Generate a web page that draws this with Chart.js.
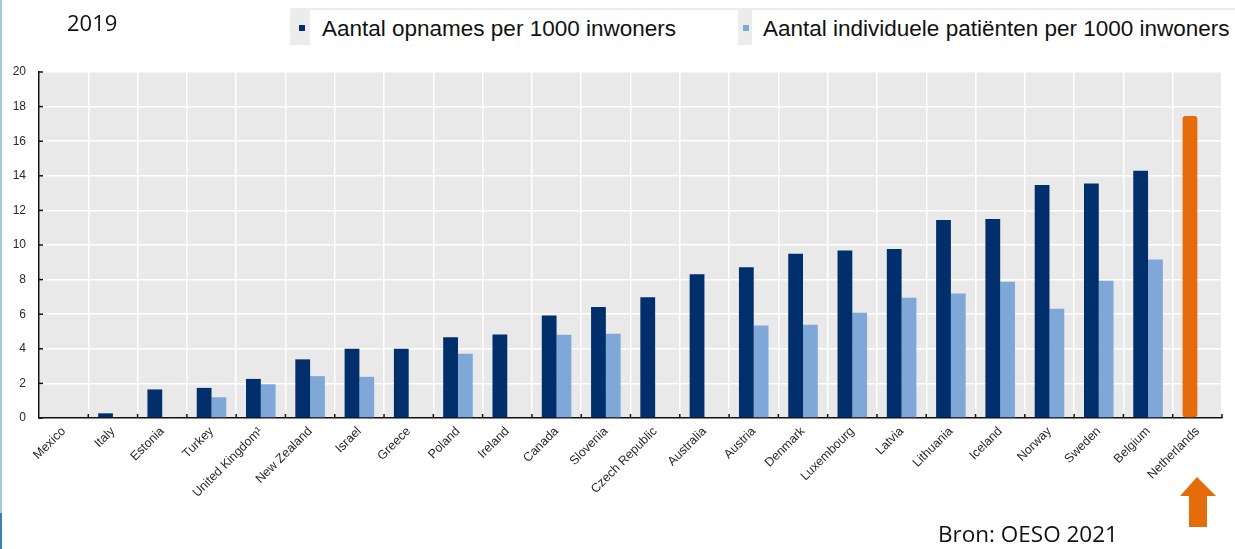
<!DOCTYPE html>
<html>
<head>
<meta charset="utf-8">
<script src="https://cdn.jsdelivr.net/npm/chart.js@4"></script>
<style>
  html, body { margin: 0; padding: 0; background: #fff; }
  #wrap { position: relative; width: 1235px; height: 549px; overflow: hidden; background: #fff; }
  #chart { position: absolute; left: 0; top: 0; }
  .edge { position: absolute; left: 0; width: 2px; }
  .title { position: absolute; font-family: "Open Sans", sans-serif; font-size: 22px; line-height: 30px; color: #111; white-space: nowrap; }
  .legend-panel { position: absolute; left: 290px; top: 8px; width: 945px; height: 37px; background: #ececec; }
  .legend-item { position: absolute; top: 10px; height: 35px; background: #fff; }
  .legend-text { position: absolute; font-family: "Liberation Sans", Arial, sans-serif; font-size: 22.5px; line-height: 26px; color: #111; white-space: nowrap; }
  .swatch { position: absolute; width: 6px; height: 6px; }
  #arrow { position: absolute; left: 0; top: 0; }
</style>
</head>
<body>
<div id="wrap">
  <canvas id="chart" width="1235" height="549"></canvas>
  <div class="edge" style="top:0;height:513px;background:#a3ccd8;"></div>
  <div class="edge" style="top:513px;height:36px;background:#3a82ad;"></div>

  <div class="title" style="left:67px;top:7px;">2019</div>

  <div class="legend-panel"></div>
  <div class="legend-item" style="left:310px;width:428px;"></div>
  <div class="legend-item" style="left:752px;width:483px;"></div>
  <div class="swatch" id="sw1" style="left:299px;top:25px;"></div>
  <div class="swatch" id="sw2" style="left:743px;top:25px;"></div>
  <div class="legend-text" id="lg1" style="left:322px;top:16px;"></div>
  <div class="legend-text" id="lg2" style="left:763px;top:16px;"></div>

  <svg id="arrow" width="1235" height="549">
    <polygon points="1197,477 1216,496 1207,496 1207,527 1189,527 1189,496 1180,496" fill="#e46c0a"/>
  </svg>

  <div class="title" style="left:938px;top:519px;font-size:22.5px;">Bron: OESO 2021</div>
</div>

<script>
// Countries, ordered by number of admissions
const countries = [
  'Mexico', 'Italy', 'Estonia', 'Turkey', 'United Kingdom¹', 'New Zealand', 'Israel', 'Greece',
  'Poland', 'Ireland', 'Canada', 'Slovenia', 'Czech Republic', 'Australia', 'Austria', 'Denmark',
  'Luxembourg', 'Latvia', 'Lithuania', 'Iceland', 'Norway', 'Sweden', 'Belgium', 'Netherlands'
];

// Admissions per 1000 inhabitants
const admissions = [
  null, 0.27, 1.65, 1.74, 2.26, 3.39, 4.0, 4.0,
  4.67, 4.83, 5.93, 6.41, 6.98, 8.31, 8.71, 9.5,
  9.68, 9.77, 11.45, 11.5, 13.47, 13.56, 14.29, 17.45
];

// Individual patients per 1000 inhabitants
const patients = [
  null, null, null, 1.2, 1.95, 2.42, 2.38, null,
  3.72, null, 4.81, 4.87, null, null, 5.35, 5.39,
  6.08, 6.95, 7.2, 7.87, 6.31, 7.93, 9.16, null
];

const seriesNames = [
  'Aantal opnames per 1000 inwoners',
  'Aantal individuele patiënten per 1000 inwoners'
];

const yTicks = [0, 2, 4, 6, 8, 10, 12, 14, 16, 18, 20];
const highlightCountry = 'Netherlands';

const DARK = '#002f6c';
const LIGHT = '#7fa8d9';
const ORANGE = '#e46c0a';
const PLOT_BG = '#e9e9e9';

document.getElementById('lg1').textContent = seriesNames[0];
document.getElementById('lg2').textContent = seriesNames[1];
document.getElementById('sw1').style.background = DARK;
document.getElementById('sw2').style.background = LIGHT;

// Grey plot background plus inward tick marks on both axes
const plotFrame = {
  id: 'plotFrame',
  beforeDraw(chart) {
    const { ctx, chartArea: a } = chart;
    ctx.save();
    ctx.fillStyle = PLOT_BG;
    ctx.fillRect(a.left, a.top, a.right - a.left, a.bottom - a.top);
    ctx.restore();
  },
  afterDraw(chart) {
    const { ctx, chartArea: a, scales } = chart;
    ctx.save();
    ctx.strokeStyle = '#111';
    ctx.lineWidth = 1.5;
    scales.y.ticks.forEach(t => {
      const y = scales.y.getPixelForValue(t.value);
      ctx.beginPath();
      ctx.moveTo(a.left, y);
      ctx.lineTo(a.left + 4, y);
      ctx.stroke();
    });
    const xs = [];
    for (let i = 1; i < countries.length; i++) {
      xs.push((scales.x.getPixelForValue(i - 1) + scales.x.getPixelForValue(i)) / 2);
    }
    xs.push(a.right);
    xs.forEach(x => {
      ctx.beginPath();
      ctx.moveTo(x, a.bottom);
      ctx.lineTo(x, a.bottom - 4);
      ctx.stroke();
    });
    ctx.restore();
  }
};

const darkColors = countries.map(c => c === highlightCountry ? ORANGE : DARK);
const darkRadius = countries.map(c => c === highlightCountry ? 3 : 0);

new Chart(document.getElementById('chart'), {
  type: 'bar',
  data: {
    labels: countries,
    datasets: [
      {
        label: seriesNames[0],
        data: admissions,
        backgroundColor: darkColors,
        borderRadius: darkRadius,
        borderSkipped: false,
        categoryPercentage: 0.6,
        barPercentage: 1.0
      },
      {
        label: seriesNames[1],
        data: patients,
        backgroundColor: LIGHT,
        categoryPercentage: 0.6,
        barPercentage: 1.0
      }
    ]
  },
  options: {
    responsive: false,
    animation: false,
    devicePixelRatio: 1,
    layout: { padding: { left: 0, top: 72, right: 13, bottom: 41 } },
    plugins: {
      legend: { display: false },
      tooltip: { enabled: false }
    },
    scales: {
      x: {
        grid: { color: '#ffffff', lineWidth: 1.5, drawTicks: false, offset: true },
        border: { display: true, color: '#111', width: 1.5 },
        ticks: {
          color: '#2a2a2a',
          font: { family: 'Liberation Sans, Arial, sans-serif', size: 12.5 },
          minRotation: 45,
          maxRotation: 45,
          autoSkip: false,
          padding: 6
        },
        afterFit(scale) { scale.height = 90; }
      },
      y: {
        min: 0,
        max: 20,
        afterBuildTicks(scale) { scale.ticks = yTicks.map(v => ({ value: v })); },
        grid: { color: '#ffffff', lineWidth: 1.5, drawTicks: false },
        border: { display: true, color: '#111', width: 1.5 },
        ticks: {
          color: '#2a2a2a',
          font: { family: 'Liberation Sans, Arial, sans-serif', size: 12 },
          padding: 13
        },
        afterFit(scale) { scale.width = 39; }
      }
    }
  },
  plugins: [plotFrame]
});
</script>
</body>
</html>
